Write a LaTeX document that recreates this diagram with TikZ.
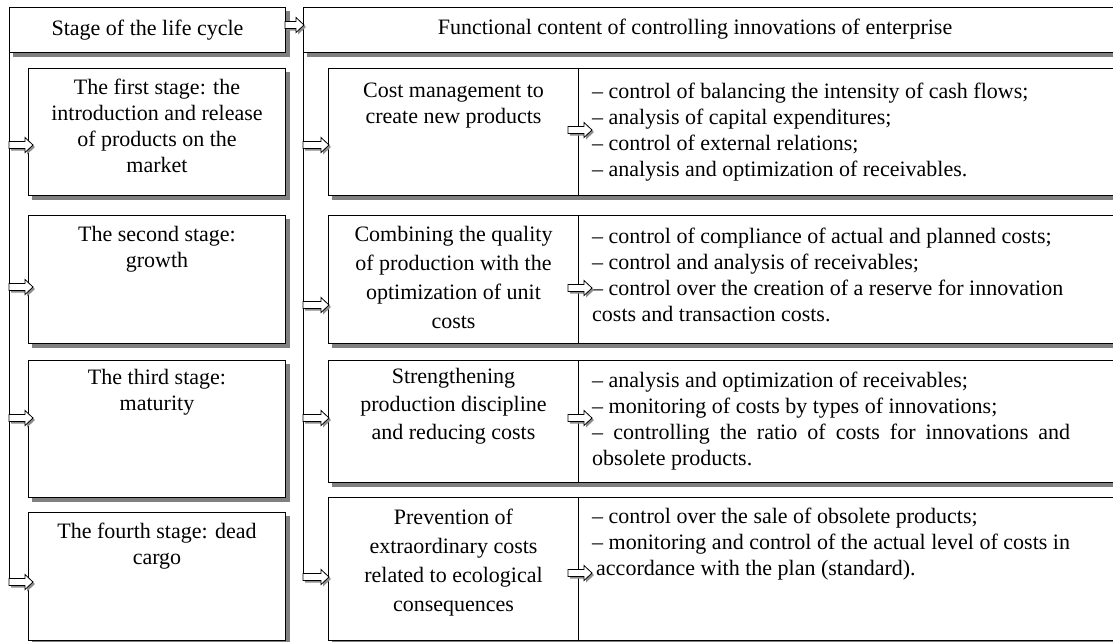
\documentclass[tikz,border=0pt]{standalone}
\usepackage{fontspec}
\setmainfont{Liberation Serif}
\newfontfamily\tnrfont{Liberation Serif}
\usetikzlibrary{calc}
\pgfdeclarelayer{bg}
\pgfsetlayers{bg,main}
\begin{document}
\begin{tikzpicture}[x=1pt,y=-1pt,
  every node/.style={font=\tnrfont\fontsize{22}{26}\selectfont, inner sep=0pt},
  box/.style={draw, line width=1pt, fill=white, anchor=north west},
  shadowfill/.style={fill=black!50},
  frameline/.style={line width=1pt},
  blockarrow/.style={draw, line width=0.8pt, fill=white, line join=miter,
    preaction={fill=black!45, transform canvas={shift={(2pt,-2pt)}}},
    to path={($(\tikztostart)+(0,-3.5)$) -- ($(\tikztotarget)+(#1-8,-3.5)$)
      -- ($(\tikztotarget)+(#1-8,-7.5)$) -- ($(\tikztotarget)+(#1,0)$)
      -- ($(\tikztotarget)+(#1-8,7.5)$) -- ($(\tikztotarget)+(#1-8,3.5)$)
      -- ($(\tikztostart)+(0,3.5)$) -- cycle}},
  ttl/.style={anchor=north, align=center},
  blt/.style={anchor=north west, align=left}]

\useasboundingbox (0,0) rectangle (1113,641);
\clip (0,0) rectangle (1113,641);

% headers
\node[box, minimum width=276, minimum height=45] (h1) at (9,7) {Stage of the life cycle};
\node[box, minimum width=830, minimum height=45] (h2) at (303,7) {};
\node (h2t) at (695,29.5) {Functional content of controlling innovations of enterprise};

% frame lines
\coordinate (l1) at (9,145);
\coordinate (l2) at (9,287);
\coordinate (l3) at (9,418);
\coordinate (l4) at (9,582);
\coordinate (m1) at (303,145);
\coordinate (m2) at (303,305);
\coordinate (m3) at (303,418);
\coordinate (m4) at (303,577);
\draw[frameline] (h1.south west) -- (l4);
\draw[frameline] (h2.south west) -- (m4);

% left stage boxes
\node[box, minimum width=257, minimum height=127] (s1) at (28,68) {};
\node[box, minimum width=257, minimum height=128] (s2) at (28,215) {};
\node[box, minimum width=257, minimum height=137] (s3) at (28,360) {};
\node[box, minimum width=257, minimum height=128] (s4) at (28,512) {};
\node[ttl] (s1t) at ([yshift=-11pt]s1.north) {The first stage: the\\introduction and release\\of products on the\\market};
\node[ttl] (s2t) at ([yshift=-11pt]s2.north) {The second stage:\\growth};
\node[ttl] (s3t) at ([yshift=-9pt]s3.north) {The third stage:\\maturity};
\node[ttl] (s4t) at ([yshift=-11pt]s4.north) {The fourth stage: dead\\cargo};

% right content boxes
\node[box, minimum width=250, minimum height=127] (t1) at (328,68) {};
\node[box, minimum width=560, minimum height=127] (b1) at (578,68) {};
\node[box, minimum width=250, minimum height=128] (t2) at (328,215) {};
\node[box, minimum width=560, minimum height=128] (b2) at (578,215) {};
\node[box, minimum width=250, minimum height=122] (t3) at (328,360) {};
\node[box, minimum width=560, minimum height=122] (b3) at (578,360) {};
\node[box, minimum width=250, minimum height=143] (t4) at (328,497) {};
\node[box, minimum width=560, minimum height=143] (b4) at (578,497) {};

\node[ttl] (t1t) at ([yshift=-15pt]t1.north) {Cost management to\\create new products};
\node[ttl, font=\tnrfont\fontsize{22}{29}\selectfont] (t2t) at ([yshift=-11pt]t2.north) {Combining the quality\\of production with the\\optimization of unit\\costs};
\node[ttl, font=\tnrfont\fontsize{22}{28}\selectfont] (t3t) at ([yshift=-8pt]t3.north) {Strengthening\\production discipline\\and reducing costs};
\node[ttl, font=\tnrfont\fontsize{22}{29}\selectfont] (t4t) at ([yshift=-12pt]t4.north) {Prevention of\\extraordinary costs\\related to ecological\\consequences};

\node[blt] (b1t) at (592,83) {– control of balancing the intensity of cash flows;\\– analysis of capital expenditures;\\– control of external relations;\\– analysis and optimization of receivables.};
\node[blt] (b2t) at (592,228) {– control of compliance of actual and planned costs;\\– control and analysis of receivables;\\– control over the creation of a reserve for innovation\\costs and transaction costs.};
\node[blt] (b3t) at (592,372) {– analysis and optimization of receivables;\\– monitoring of costs by types of innovations;\\\makebox[478pt][s]{– controlling the ratio of costs for innovations and}\\obsolete products.};
\node[blt] (b4t) at (592,508) {– control over the sale of obsolete products;\\– monitoring and control of the actual level of costs in\\\hspace*{4pt}accordance with the plan (standard).};

% shadows of the boxes
\begin{pgfonlayer}{bg}
\foreach \n in {h1,h2,s1,s2,s3,s4,t1,b1,t2,b2,t3,b3,t4,b4}{
  \fill[shadowfill] ($(\n.north west)+(4,4)$) rectangle ($(\n.south east)+(4,4)$);
}
\end{pgfonlayer}

% arrows
\coordinate (hA) at (285,25);
\draw[blockarrow=1] (hA) to (hA -| h2.west);
\draw[blockarrow=5] (l1) to (l1 -| s1.west);
\draw[blockarrow=5] (l2) to (l2 -| s2.west);
\draw[blockarrow=5] (l3) to (l3 -| s3.west);
\draw[blockarrow=5] (l4) to (l4 -| s4.west);
\draw[blockarrow=1] (m1) to (m1 -| t1.west);
\draw[blockarrow=1] (m2) to (m2 -| t2.west);
\draw[blockarrow=1] (m3) to (m3 -| t3.west);
\draw[blockarrow=1] (m4) to (m4 -| t4.west);
\coordinate (i1) at (568,130);
\coordinate (i2) at (568,288);
\coordinate (i3) at (568,418);
\coordinate (i4) at (568,573);
\draw[blockarrow=14] (i1) to (i1 -| b1.west);
\draw[blockarrow=14] (i2) to (i2 -| b2.west);
\draw[blockarrow=14] (i3) to (i3 -| b3.west);
\draw[blockarrow=14] (i4) to (i4 -| b4.west);
\end{tikzpicture}
\end{document}
